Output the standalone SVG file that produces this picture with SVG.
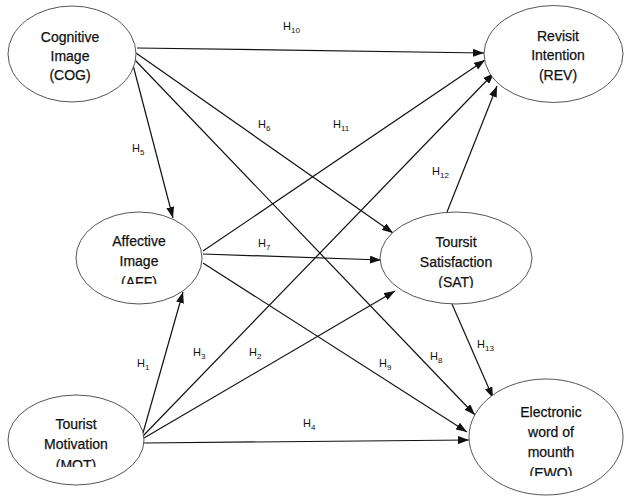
<svg xmlns="http://www.w3.org/2000/svg" width="624" height="496" viewBox="0 0 624 496">
<style>
.node ellipse{fill:#fff;stroke:#555;stroke-width:1}
.node text{font-family:"Liberation Sans",Arial,sans-serif;font-size:14px;fill:#111;stroke:#111;stroke-width:0.25;text-anchor:middle}
.edges line{stroke:#111;stroke-width:1.2;marker-end:url(#arr)}
.lbl text{font-family:"Liberation Sans",Arial,sans-serif;font-size:11px;fill:#111}
.lbl tspan{font-size:8px}
</style>
<defs>
<marker id="arr" markerUnits="userSpaceOnUse" markerWidth="11" markerHeight="8" refX="11" refY="4" orient="auto">
<path d="M0,0 L11,4 L0,8 z" fill="#111"/>
</marker>
<clipPath id="cAFF"><rect x="70" y="200" width="140" height="84"/></clipPath>
<clipPath id="cSAT"><rect x="375" y="200" width="165" height="88"/></clipPath>
<clipPath id="cMOT"><rect x="0" y="380" width="150" height="87"/></clipPath>
<clipPath id="cEWO"><rect x="465" y="370" width="159" height="106"/></clipPath>
</defs>
<g class="edges">
<line x1="137" y1="48" x2="484" y2="53"/>
<line x1="133" y1="65" x2="173" y2="218"/>
<line x1="136" y1="53" x2="393" y2="233"/>
<line x1="135" y1="60" x2="475" y2="415"/>
<line x1="203" y1="251" x2="485" y2="60"/>
<line x1="203" y1="254" x2="381" y2="260"/>
<line x1="203" y1="263" x2="467" y2="432"/>
<line x1="143" y1="433" x2="183" y2="292"/>
<line x1="143" y1="436" x2="494" y2="73"/>
<line x1="144" y1="438" x2="395" y2="291"/>
<line x1="144" y1="443" x2="469" y2="440"/>
<line x1="447" y1="212" x2="497" y2="86"/>
<line x1="452" y1="304" x2="493" y2="398"/>
</g>
<g id="COG" class="node">
<ellipse cx="72" cy="54" rx="64" ry="48"/>
<text x="70" y="42">Cognitive</text>
<text x="70" y="61">Image</text>
<text x="70" y="80">(COG)</text>
</g>
<g id="REV" class="node">
<ellipse cx="553.5" cy="54" rx="69.5" ry="48.5"/>
<text x="558" y="41">Revisit</text>
<text x="558" y="60">Intention</text>
<text x="558" y="80">(REV)</text>
</g>
<g id="AFF" class="node">
<ellipse cx="139" cy="258" rx="63" ry="46"/>
<g clip-path="url(#cAFF)">
<text x="139" y="246">Affective</text>
<text x="139" y="266">Image</text>
<text x="139" y="287">(AFF)</text>
</g>
</g>
<g id="SAT" class="node">
<ellipse cx="456" cy="258" rx="76" ry="46"/>
<g clip-path="url(#cSAT)">
<text x="456" y="247">Toursit</text>
<text x="456" y="267">Satisfaction</text>
<text x="456" y="287">(SAT)</text>
</g>
</g>
<g id="MOT" class="node">
<ellipse cx="76" cy="440" rx="68" ry="45"/>
<g clip-path="url(#cMOT)">
<text x="76" y="429">Tourist</text>
<text x="76" y="449">Motivation</text>
<text x="76" y="470">(MOT)</text>
</g>
</g>
<g id="EWO" class="node">
<ellipse cx="546" cy="437" rx="77" ry="58"/>
<g clip-path="url(#cEWO)">
<text x="551" y="417">Electronic</text>
<text x="551" y="437">word of</text>
<text x="551" y="457">mounth</text>
<text x="551" y="478">(EWO)</text>
</g>
</g>
<g class="lbl">
<text x="283" y="30">H<tspan dy="3">10</tspan></text>
<text x="258" y="128">H<tspan dy="3">6</tspan></text>
<text x="132" y="152">H<tspan dy="3">5</tspan></text>
<text x="333" y="128">H<tspan dy="3">11</tspan></text>
<text x="432" y="175">H<tspan dy="3">12</tspan></text>
<text x="258" y="247">H<tspan dy="3">7</tspan></text>
<text x="137" y="367">H<tspan dy="3">1</tspan></text>
<text x="193" y="356">H<tspan dy="3">3</tspan></text>
<text x="249" y="356">H<tspan dy="3">2</tspan></text>
<text x="303" y="427">H<tspan dy="3">4</tspan></text>
<text x="379" y="367">H<tspan dy="3">9</tspan></text>
<text x="430" y="360">H<tspan dy="3">8</tspan></text>
<text x="477" y="348">H<tspan dy="3">13</tspan></text>
</g>
</svg>
